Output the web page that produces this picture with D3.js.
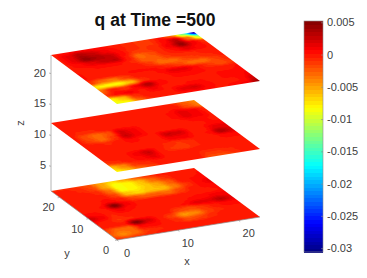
<!DOCTYPE html>
<html>
<head>
  <meta charset="UTF-8">
  <style>
    body { margin: 0; padding: 0; background: #fff; }
    svg { display: block; }
    text { font-family: "Liberation Sans", Arial, sans-serif; }
  </style>
</head>
<body>
<svg></svg>
<script src="https://d3js.org/d3.v7.min.js"></script>
<script>
  // q values in units of 1e-3, 13 samples per side
  // rows go from the back edge (y max) to the front edge (y=0), columns from x=0 to x max
  let layerZ = [1, 12, 23];

  let qBottom = [
    [-0.5,-0.5,-1,-2,-5,-7,-5,-2.5,-1,0,0,0,0],
    [0,0,-0.5,-1.5,-5,-8.5,-8,-6,-3,-1,0,0,0.2],
    [0,0,0,-0.5,-3,-8.5,-8,-6.5,-5,-2.5,0,0.2,0.5],
    [0,0,0,0,-1.5,-6,-7,-6,-6,-3.5,-1,0.5,1.5],
    [0,0,0,0.5,0,-1.5,-2.5,-2.5,-3,-1.5,0,0.2,0.5],
    [0,0,0.2,5,1,0,0,0,0,0,0,0,0.2],
    [0.2,0.2,0,1,0.2,0,0,0,0,0.2,0.5,1,1],
    [2.5,1,-0.5,0,0,0,0,0,0.2,1.5,1.5,3,1.5],
    [0.2,0,-1,-0.5,0,0,0,-1.5,-2,-1,0,0.5,0.5],
    [0,0,0,5,2,0,-1.5,-4.5,-4,-1.5,-0.5,0,0],
    [-1.5,-3,-3,0.5,0.5,0,-0.5,-2,-1.5,-0.5,0,0,0],
    [-2.5,-4,-3,-1,-0.5,0,0,0,0,0,0,0,0],
    [-1,-1.5,-1,-0.5,0,0,0,0,0,0,0,0,0]
  ];
  let qMiddle = [
    [0,0,0,0,0,0,0,0,0,0,-0.5,-2.5,-4],
    [0,0,0,0,0,0,0,0,0,0,0,-2,-3.5],
    [0,0,0,0,0,0,0,0,0,0.2,1.5,1,-0.5],
    [0,-0.5,-0.5,0,0,0,0,0,0,0.2,1.5,1,0],
    [0,-2,-3,-2,2,1,0,0,0,0,0.2,0.2,0],
    [0,-1.5,-3,-1,2.5,1,0,0,0,0,0,0.2,0.2],
    [0,0,-0.5,0,0.5,0,0,2.5,2,0,0,1.5,1.5],
    [0,0,0,0,0,0,0,1,1,0,0.2,3.5,2],
    [0,0,0,0,0,0,-0.5,-1,-0.5,0,0,0.5,0.5],
    [0,0,0,1,2.5,0,-1,-1.5,-0.5,0,0,0,0],
    [-1,-0.5,0,0.5,1.5,0,0,0,0,0,0,0,0],
    [-6,-4,-1,-0.5,0,0,0,0,-1,-1,-0.5,0,0],
    [-8,-6,-3,-1.5,0,0,0,0,-2,-2,-1,0,0]
  ];
  let qTop = [
    [0,0.2,1,0.5,0.2,0,-0.5,-1,-1,0.2,-3,-13,-30],
    [0,1.5,3.5,2.5,1,0.2,-0.5,-1,-1,0.5,3,-3,-11],
    [0,1.5,4.5,3.5,2.5,0.5,-1,-1,-0.5,1,4.5,1,-1],
    [0,0.5,1.5,2.5,3,0,-3,-2,-0.5,0.2,1.5,0.5,0],
    [0,0,0.2,0.2,0.2,-0.5,-2.5,-2.5,-1,-0.5,-0.5,0,0],
    [0.2,0,0,0,0,0,-1,-3,-3,-1.5,-1,-0.5,0],
    [0.2,0,0,0,0.2,0.2,0.2,-0.5,-1.5,-3,-3,-1.5,-0.5],
    [-1,-3,-3.5,-1.5,0,0,0.2,1.5,1.5,0.2,-1,-2,-1],
    [-7.5,-8,-8,-6,-1,0,0,0.5,0.5,0.2,0,0,0.2],
    [-3,0,-1,1,3.5,0.5,0,0,0,0,0.2,0.2,0.5],
    [-1,0.5,1,0,1,0,0,0.2,0.2,0,0.2,0.2,1],
    [-8,-6,-1,0,0,0,1.5,2,0.5,0,0,0.2,2.5],
    [-9,-8,-3,-0.5,0,0,0.2,0.5,0.2,0,0.5,1,4.5]
  ];
  let layers = [qBottom, qMiddle, qTop];

  let xTicks = [0, 10, 20];
  let yTicks = [0, 10, 20];
  let zTicks = [5, 10, 15, 20];
  let cbarTicks = [0.005, 0, -0.005, -0.01, -0.015, -0.02, -0.025, -0.03];
  let cbarLabels = ["0.005", "0", "-0.005", "-0.01", "-0.015", "-0.02", "-0.025", "-0.03"];
  let qDomain = [-0.0306, 0.0052];
  let xMax = 23.5, yMax = 23;

  let width = 367, height = 278;
  let svg = d3.select("svg").attr("width", width).attr("height", height);

  // oblique projection: each data axis moves along its own screen direction
  let xToSx = d3.scaleLinear().domain([0, xMax]).range([0, 143]);
  let xToSy = d3.scaleLinear().domain([0, xMax]).range([0, -23]);
  let yToSx = d3.scaleLinear().domain([0, yMax]).range([0, -66]);
  let yToSy = d3.scaleLinear().domain([0, yMax]).range([0, -49]);
  let zToSy = d3.scaleLinear().domain([1, 23]).range([0, -136]);
  let px = (x, y) => 117 + xToSx(x) + yToSx(y);
  let py = (x, y, z) => 240 + xToSy(x) + yToSy(y) + zToSy(z);

  // jet colormap, 64 levels like matlab
  let jetStops = [0, 0.125, 0.375, 0.625, 0.875, 1];
  let jetColors = ["#000080", "#0000ff", "#00ffff", "#ffff00", "#ff0000", "#800000"];
  let jet = d3.scaleLinear().domain(jetStops).range(jetColors).interpolate(d3.interpolateRgb);
  let jetLevels = d3.range(64).map(i => jet((i + 0.5) / 64));
  let colorScale = d3.scaleQuantize().domain(qDomain).range(jetLevels);

  // grey z axis goes behind the layers
  let axisColor = "#8c8c8c", textColor = "#404040";
  let axes = svg.append("g");
  axes.append("line")
    .attr("x1", px(0, yMax)).attr("x2", px(0, yMax))
    .attr("y1", py(0, yMax, 1)).attr("y2", py(0, yMax, 23))
    .attr("stroke", "#b4b4b4").attr("stroke-width", 1);
  zTicks.forEach(z => {
    axes.append("line")
      .attr("x1", px(0, yMax)).attr("x2", px(0, yMax) - 2)
      .attr("y1", py(0, yMax, z)).attr("y2", py(0, yMax, z) - 0.5)
      .attr("stroke", axisColor).attr("stroke-width", 0.6);
    axes.append("text")
      .attr("x", px(0, yMax) - 5).attr("y", py(0, yMax, z) + 3)
      .attr("text-anchor", "end").attr("font-size", 11).attr("fill", textColor)
      .text(z);
  });

  // shading interp: the table is resampled in a small image, then sheared on the layer
  let sub = 10, n = layers[0].length - 1, imgSize = n * sub;
  let ease = t => t * t * (3 - 2 * t); // rounder blobs than plain bilinear
  function layerImage(layer) {
    let canvas = document.createElement("canvas");
    canvas.width = imgSize;
    canvas.height = imgSize;
    let ctx = canvas.getContext("2d");
    for (let i = 0; i < imgSize; i++) {
      for (let j = 0; j < imgSize; j++) {
        let cf = (i + 0.5) / sub, rf = (j + 0.5) / sub;
        let c = Math.floor(cf), r = Math.floor(rf), t = ease(cf - c), s = ease(rf - r);
        let v = (layer[r][c] * (1 - t) + layer[r][c + 1] * t) * (1 - s)
              + (layer[r + 1][c] * (1 - t) + layer[r + 1][c + 1] * t) * s;
        ctx.fillStyle = colorScale(v / 1000);
        ctx.fillRect(i, j, 1, 1);
      }
    }
    return canvas.toDataURL();
  }

  layers.forEach((layer, k) => {
    let z = layerZ[k];
    let a = (px(xMax, yMax) - px(0, yMax)) / imgSize;
    let b = (py(xMax, yMax, z) - py(0, yMax, z)) / imgSize;
    let c = (px(0, 0) - px(0, yMax)) / imgSize;
    let d = (py(0, 0, z) - py(0, yMax, z)) / imgSize;
    svg.append("image")
      .attr("href", layerImage(layer))
      .attr("width", imgSize)
      .attr("height", imgSize)
      .attr("preserveAspectRatio", "none")
      .attr("transform", `matrix(${a},${b},${c},${d},${px(0, yMax)},${py(0, yMax, z)})`);
  });

  // x and y axis on the floor
  axes = svg.append("g");
  axes.append("line")
    .attr("x1", px(0, 0)).attr("y1", py(0, 0, 1)).attr("x2", px(xMax, 0)).attr("y2", py(xMax, 0, 1))
    .attr("stroke", axisColor).attr("stroke-width", 0.7);
  axes.append("line")
    .attr("x1", px(0, 0)).attr("y1", py(0, 0, 1)).attr("x2", px(0, yMax)).attr("y2", py(0, yMax, 1))
    .attr("stroke", axisColor).attr("stroke-width", 0.7);
  xTicks.forEach(x => {
    axes.append("line")
      .attr("x1", px(x, 0)).attr("y1", py(x, 0, 1)).attr("x2", px(x, 0) + 1.5).attr("y2", py(x, 0, 1) + 1.2)
      .attr("stroke", axisColor).attr("stroke-width", 0.6);
    axes.append("text")
      .attr("x", px(x, 0) + 10).attr("y", py(x, 0, 1) + 17)
      .attr("text-anchor", "middle").attr("font-size", 11).attr("fill", textColor)
      .text(x);
  });
  yTicks.forEach(y => {
    axes.append("line")
      .attr("x1", px(0, y)).attr("y1", py(0, y, 1)).attr("x2", px(0, y) - 2).attr("y2", py(0, y, 1) + 0.4)
      .attr("stroke", axisColor).attr("stroke-width", 0.6);
    axes.append("text")
      .attr("x", px(0, y) - 11).attr("y", py(0, y, 1) + 14)
      .attr("text-anchor", "middle").attr("font-size", 11).attr("fill", textColor)
      .text(y);
  });
  axes.append("text").attr("x", 187).attr("y", 265).attr("text-anchor", "middle")
    .attr("font-size", 11).attr("fill", textColor).text("x");
  axes.append("text").attr("x", 67).attr("y", 257).attr("text-anchor", "middle")
    .attr("font-size", 11).attr("fill", textColor).text("y");
  axes.append("text").attr("transform", "translate(24,123) rotate(-90)").attr("text-anchor", "middle")
    .attr("font-size", 11).attr("fill", textColor).text("z");

  svg.append("text")
    .attr("x", 155).attr("y", 26)
    .attr("text-anchor", "middle").attr("font-size", 17.5).attr("font-weight", "bold").attr("fill", "#111")
    .text("q at Time =500");

  // colorbar
  let cbar = svg.append("g").attr("transform", "translate(304,0)");
  let cbarW = 19;
  let cbarScale = d3.scaleLinear().domain(qDomain).range([252, 21]);
  let levelH = (cbarScale.range()[0] - cbarScale.range()[1]) / jetLevels.length;
  cbar.selectAll("rect.level")
    .data(jetLevels)
    .enter()
    .append("rect")
    .attr("class", "level")
    .attr("x", 0)
    .attr("width", cbarW)
    .attr("y", (d, i) => 252 - (i + 1) * levelH)
    .attr("height", levelH + 0.5)
    .attr("fill", d => d)
    .attr("shape-rendering", "crispEdges");
  cbar.append("rect")
    .attr("width", cbarW).attr("y", 21).attr("height", 231)
    .attr("fill", "none").attr("stroke", axisColor).attr("stroke-width", 0.6);

  let cbarAxis = d3.axisRight(cbarScale)
    .tickValues(cbarTicks)
    .tickSize(-2)
    .tickPadding(4)
    .tickFormat((d, i) => cbarLabels[i]);
  let cbarG = cbar.append("g").attr("transform", `translate(${cbarW},0)`).call(cbarAxis);
  cbarG.select(".domain").remove();
  cbarG.selectAll("line").attr("stroke", axisColor).attr("stroke-width", 0.6);
  cbarG.selectAll("text").attr("font-size", 11).attr("fill", textColor)
    .style("font-family", '"Liberation Sans", Arial, sans-serif');
</script>
</body>
</html>
